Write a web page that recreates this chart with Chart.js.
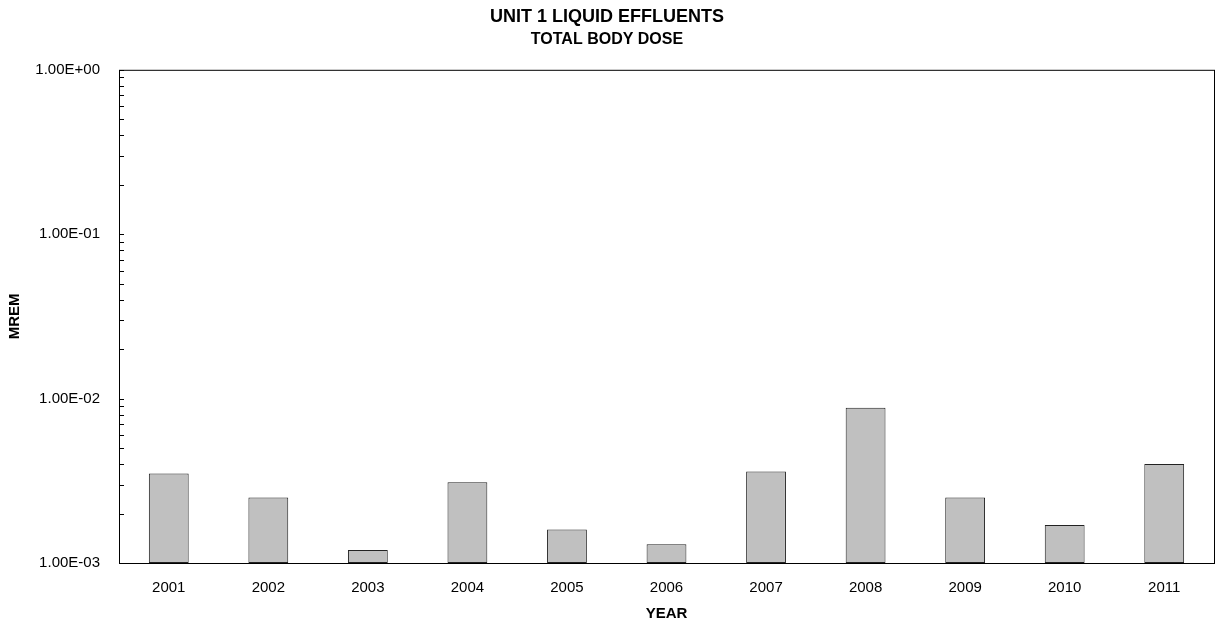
<!DOCTYPE html>
<html>
<head>
<meta charset="utf-8">
<script src="https://cdn.jsdelivr.net/npm/chart.js@4/dist/chart.umd.min.js"></script>
<style>
  html, body { margin: 0; padding: 0; background: #fff; }
  #wrap { width: 1221px; height: 624px; }
</style>
</head>
<body>
<div id="wrap"><canvas id="myChart"></canvas></div>
<script>
const years = ["2001", "2002", "2003", "2004", "2005", "2006", "2007", "2008", "2009", "2010", "2011"];
const doses = [3.5e-3, 2.5e-3, 1.2e-3, 3.1e-3, 1.6e-3, 1.3e-3, 3.6e-3, 8.8e-3, 2.5e-3, 1.7e-3, 4.0e-3];
const yTicks = [1e-3, 1e-2, 1e-1, 1e0];

const FONT = "'Liberation Sans', Arial, sans-serif";

// frame + inward minor ticks on the log axis
const frame = {
  id: "frame",
  afterDraw(chart) {
    const { ctx, chartArea: a } = chart;
    const y = chart.scales.y;
    ctx.save();
    ctx.strokeStyle = "#000";
    ctx.lineWidth = 1;
    ctx.strokeRect(a.left + 0.5, a.top + 0.5, a.right - a.left, a.bottom - a.top);
    ctx.beginPath();
    y.ticks.forEach(t => {
      const py = Math.round(y.getPixelForValue(t.value)) + 0.5;
      ctx.moveTo(a.left, py);
      ctx.lineTo(a.left + 5, py);
    });
    ctx.stroke();
    ctx.restore();
  }
};

new Chart(document.getElementById("myChart"), {
  type: "bar",
  data: {
    labels: years,
    datasets: [{
      data: doses,
      backgroundColor: "#c0c0c0",
      borderColor: "#222",
      borderWidth: 1,
      borderSkipped: false,
      barPercentage: 0.40,
      categoryPercentage: 1.0,
    }]
  },
  options: {
    responsive: true,
    maintainAspectRatio: false,
    animation: false,
    layout: { padding: { top: 0, right: 7, bottom: 0, left: 0 } },
    plugins: {
      legend: { display: false },
      tooltip: { enabled: false },
      title: {
        display: true,
        text: "UNIT 1 LIQUID EFFLUENTS",
        color: "#000",
        font: { family: FONT, size: 18, weight: "bold" },
        padding: { top: 6, bottom: 2 }
      },
      subtitle: {
        display: true,
        text: "TOTAL BODY DOSE",
        color: "#000",
        font: { family: FONT, size: 16, weight: "bold" },
        padding: { top: 0, bottom: 21 }
      }
    },
    scales: {
      x: {
        afterFit: scale => { scale.height = 61; },
        grid: { display: false, drawTicks: false },
        border: { display: false },
        ticks: {
          color: "#000",
          padding: 16,
          font: { family: FONT, size: 15 }
        },
        title: {
          display: true,
          text: "YEAR",
          color: "#000",
          font: { family: FONT, size: 15, weight: "bold" },
          padding: { top: 8, bottom: 1 }
        }
      },
      y: {
        type: "logarithmic",
        min: 1e-3,
        max: 1,
        afterFit: scale => { scale.width = 119; },
        afterBuildTicks: scale => {
          const extra = [];
          for (let d = -3; d < 0; d++) {
            for (let m = 2; m <= 9; m++) extra.push({ value: m * Math.pow(10, d) });
          }
          scale.ticks = yTicks.map(v => ({ value: v, major: true })).concat(extra);
        },
        grid: { display: false, drawTicks: false },
        border: { display: false },
        ticks: {
          color: "#000",
          padding: 19,
          autoSkip: false,
          font: { family: FONT, size: 15 },
          callback: v => yTicks.includes(v) ? Number(v).toExponential(2).toUpperCase().replace(/E([+-])(\d)$/, "E$10$2") : ""
        },
        title: {
          display: true,
          text: "MREM",
          color: "#000",
          font: { family: FONT, size: 15, weight: "bold" },
          padding: { top: 6, bottom: 11 }
        }
      }
    }
  },
  plugins: [frame]
});
</script>
</body>
</html>
